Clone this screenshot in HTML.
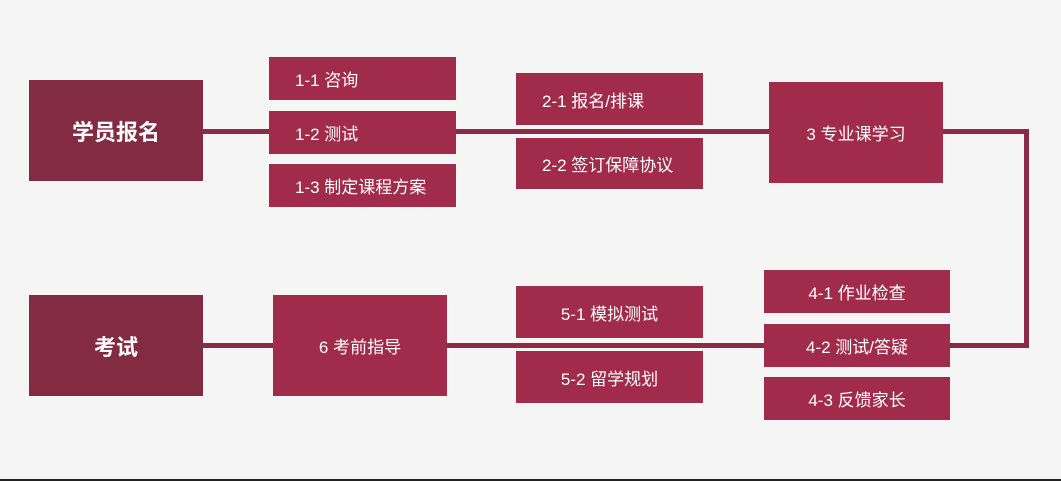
<!DOCTYPE html>
<html><head><meta charset="utf-8"><style>
body{margin:0;width:1061px;height:481px;background:#f5f5f5;position:relative;overflow:hidden;font-family:"Liberation Sans","Noto Sans CJK SC",sans-serif;}
.b{position:absolute;color:#fff;font-size:17px;display:flex;align-items:center;box-sizing:border-box;background:#a02b4a;}
.m{background:#822b43;justify-content:center;font-size:22px;font-weight:bold;}
.c{justify-content:center;}
.l{padding-left:26px;}
.ln{position:absolute;background:#8a2a44;}
</style></head><body>
<div class="ln" style="left:203px;top:129px;width:826px;height:5px"></div>
<div class="ln" style="left:1024px;top:129px;width:5px;height:219px"></div>
<div class="ln" style="left:203px;top:343px;width:826px;height:5px"></div>
<div class="b m" style="left:29px;top:80px;width:174px;height:101px">学员报名</div>
<div class="b l" style="left:269px;top:57px;width:187px;height:43px">1-1 咨询</div>
<div class="b l" style="left:269px;top:111px;width:187px;height:43px">1-2 测试</div>
<div class="b l" style="left:269px;top:164px;width:187px;height:43px">1-3 制定课程方案</div>
<div class="b l" style="left:516px;top:73px;width:187px;height:52px">2-1 报名/排课</div>
<div class="b l" style="left:516px;top:138px;width:187px;height:51px">2-2 签订保障协议</div>
<div class="b c" style="left:769px;top:82px;width:174px;height:101px">3 专业课学习</div>
<div class="b c" style="left:764px;top:270px;width:186px;height:43px">4-1 作业检查</div>
<div class="b c" style="left:764px;top:324px;width:186px;height:43px">4-2 测试/答疑</div>
<div class="b c" style="left:764px;top:377px;width:186px;height:43px">4-3 反馈家长</div>
<div class="b m" style="left:29px;top:295px;width:174px;height:101px">考试</div>
<div class="b c" style="left:273px;top:295px;width:174px;height:101px">6 考前指导</div>
<div class="b c" style="left:516px;top:286px;width:187px;height:52px">5-1 模拟测试</div>
<div class="b c" style="left:516px;top:351px;width:187px;height:52px">5-2 留学规划</div>
<div class="ln" style="left:0;top:479px;width:1061px;height:2px;background:#222"></div>
</body></html>
